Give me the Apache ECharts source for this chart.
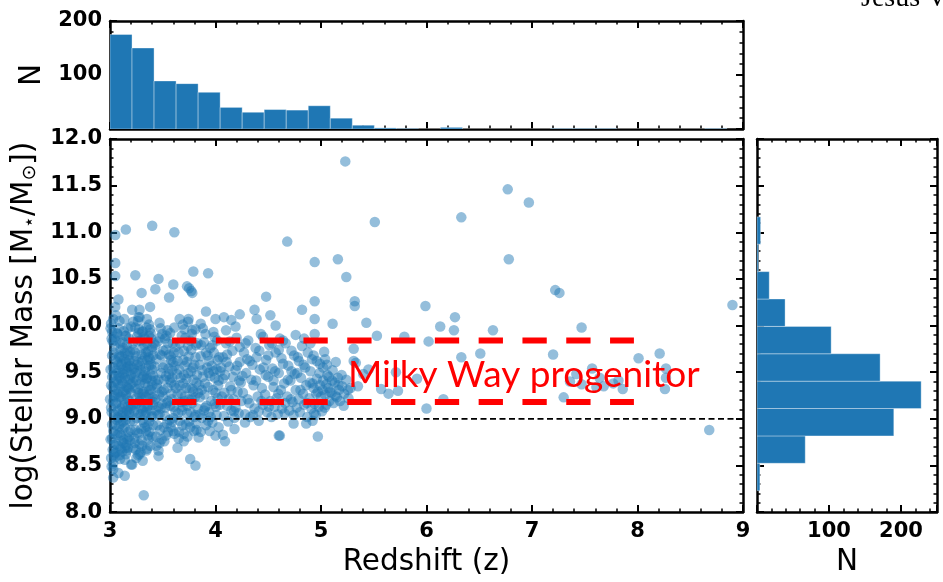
<!DOCTYPE html>
<html>
<head>
<meta charset="utf-8">
<script src="https://cdn.jsdelivr.net/npm/echarts@6/dist/echarts.min.js"></script>
<style>
html,body{margin:0;padding:0;background:#fff;}
#chart{width:943px;height:582px;}
</style>
</head>
<body>
<div id="chart"></div>
<script>
// ---------------- DATA ----------------
// Scatter points: [redshift z, log stellar mass]
const scatterPoints = [
[3.01,9.12],[3.02,9.45],[3.03,8.87],[3.04,9.78],[3.05,9.31],[3.06,8.64],[3.07,9.02],[3.08,9.58],[3.09,9.23],[3.10,8.95],
[3.11,9.67],[3.12,9.38],[3.13,8.78],[3.14,9.15],[3.15,9.89],[3.16,9.51],[3.17,8.69],[3.18,9.07],[3.19,9.72],[3.20,9.28],
[3.01,8.58],[3.02,9.93],[3.03,9.19],[3.04,8.72],[3.05,9.63],[3.06,9.41],[3.07,8.83],[3.08,9.97],[3.09,8.61],[3.10,9.35],
[3.11,9.04],[3.12,9.82],[3.13,9.48],[3.14,8.91],[3.15,9.26],[3.16,9.09],[3.17,9.56],[3.18,8.81],[3.19,9.43],[3.20,9.99],
[3.01,9.36],[3.02,8.79],[3.03,9.55],[3.04,9.05],[3.05,8.93],[3.06,9.84],[3.07,9.27],[3.08,8.71],[3.09,9.66],[3.10,9.11],
[3.11,8.76],[3.12,9.53],[3.13,9.21],[3.14,9.71],[3.15,8.99],[3.16,8.66],[3.17,9.33],[3.18,9.62],[3.19,8.97],[3.20,9.14],
[3.00,9.21],[3.02,9.68],[3.04,9.39],[3.06,9.17],[3.08,9.01],[3.10,9.74],[3.12,8.89],[3.14,9.44],[3.16,9.79],[3.18,9.32],
[3.01,10.02],[3.03,8.52],[3.05,9.88],[3.07,9.49],[3.09,8.85],[3.11,9.59],[3.13,9.94],[3.15,8.62],[3.17,9.13],[3.19,9.57],
[3.02,8.94],[3.04,9.24],[3.06,9.52],[3.08,9.29],[3.10,8.68],[3.12,9.07],[3.14,8.56],[3.16,9.34],[3.18,9.86],[3.20,9.47],
[3.03,8.46],[3.05,8.59],[3.07,9.91],[3.09,10.05],[3.11,9.41],[3.13,8.74],[3.15,9.61],[3.17,9.97],[3.19,8.77],
[3.05,10.97],[3.15,11.03],[3.05,10.67],[3.05,10.53],[3.08,10.28],[3.05,10.20],[3.03,10.07],[3.03,8.37],[3.14,8.39],[3.08,8.42],[3.20,8.51],
[3.005,9.53],[3.015,9.07],[3.025,9.34],[3.035,9.71],[3.045,8.84],[3.055,9.16],[3.065,9.61],[3.075,9.38],[3.085,8.92],[3.095,9.81],
[3.105,9.24],[3.115,9.49],[3.125,8.97],[3.135,9.64],[3.145,9.31],[3.155,9.04],[3.165,9.73],[3.175,9.42],[3.185,9.19],[3.195,8.88],
[3.005,8.78],[3.015,9.86],[3.025,8.67],[3.035,9.47],[3.045,9.26],[3.055,8.73],[3.065,9.92],[3.075,9.09],[3.085,9.68],[3.095,9.44],
[3.105,8.82],[3.115,9.13],[3.125,9.76],[3.135,9.02],[3.145,8.69],[3.155,9.54],[3.165,9.22],[3.175,8.86],[3.185,9.63],[3.195,9.37],
[3.005,9.97],[3.025,9.83],[3.045,8.63],[3.065,8.99],[3.085,9.46],[3.105,9.57],[3.125,9.29],[3.145,9.89],[3.165,8.79],[3.185,9.05],
[3.015,8.49],[3.035,8.61],[3.055,10.11],[3.095,8.57],[3.115,8.65],[3.135,10.07],[3.155,8.72],[3.175,9.68],[3.195,9.11],[3.205,9.53],
[3.22,9.15],[3.23,9.62],[3.24,8.88],[3.25,9.41],[3.26,9.83],[3.27,9.06],[3.28,8.73],[3.29,9.52],[3.30,9.27],[3.31,9.94],
[3.32,8.96],[3.33,9.38],[3.34,9.71],[3.35,9.12],[3.36,8.82],[3.37,9.57],[3.38,9.21],[3.39,9.86],[3.40,9.03],[3.41,9.46],
[3.22,9.74],[3.23,8.79],[3.24,9.33],[3.25,9.01],[3.26,9.58],[3.27,9.92],[3.28,9.19],[3.29,8.64],[3.30,9.69],[3.31,9.09],
[3.32,9.47],[3.33,8.91],[3.34,9.24],[3.35,9.81],[3.36,9.35],[3.37,8.97],[3.38,9.64],[3.39,9.02],[3.40,9.53],[3.41,9.18],
[3.22,8.69],[3.23,9.44],[3.24,9.98],[3.25,9.22],[3.26,8.85],[3.27,9.61],[3.28,9.37],[3.29,9.05],[3.30,8.77],[3.31,9.76],
[3.32,9.29],[3.33,9.66],[3.34,8.87],[3.35,9.44],[3.36,9.14],[3.37,9.89],[3.38,8.71],[3.39,9.31],[3.40,9.77],[3.41,8.93],
[3.23,9.08],[3.25,9.67],[3.27,9.28],[3.29,9.84],[3.31,8.99],[3.33,9.51],[3.35,8.68],[3.37,9.26],[3.39,9.58],[3.41,9.68],
[3.22,10.04],[3.24,9.49],[3.26,9.17],[3.28,10.09],[3.30,9.42],[3.32,9.88],[3.34,9.07],[3.36,9.72],[3.38,9.96],[3.40,9.36],
[3.25,8.58],[3.28,8.62],[3.31,8.55],[3.34,9.55],[3.37,10.01],[3.40,8.81],
[3.21,10.17],[3.28,10.17],[3.27,10.09],[3.35,10.07],[3.38,10.20],[3.24,10.54],[3.30,10.35],[3.40,11.07],[3.32,8.18],[3.21,8.51],
[3.215,9.39],[3.225,8.98],[3.235,9.71],[3.245,9.16],[3.255,9.88],[3.265,9.32],[3.275,8.84],[3.285,9.57],[3.295,9.11],[3.305,9.62],
[3.315,9.27],[3.325,9.79],[3.335,9.04],[3.345,9.43],[3.355,8.92],[3.365,9.66],[3.375,9.31],[3.385,9.09],[3.395,9.74],[3.405,9.23],
[3.215,9.81],[3.235,8.74],[3.255,9.51],[3.275,9.96],[3.295,8.89],[3.315,9.45],[3.335,9.86],[3.355,9.63],[3.375,8.86],[3.395,9.41],
[3.225,9.54],[3.245,8.67],[3.265,10.05],[3.285,9.23],[3.305,8.71],[3.325,9.13],[3.345,9.98],[3.365,8.78],[3.385,9.92],[3.405,9.15],
[3.265,8.61],[3.305,9.93],[3.345,8.66],[3.385,9.47],[3.415,9.81],
[3.43,9.21],[3.44,9.64],[3.45,8.93],[3.46,9.42],[3.47,9.87],[3.48,9.11],[3.49,8.78],[3.50,9.55],[3.51,9.31],[3.52,9.03],
[3.53,9.74],[3.54,9.17],[3.55,8.86],[3.56,9.48],[3.57,9.92],[3.58,9.27],[3.59,8.97],[3.60,9.61],[3.61,9.36],[3.62,9.08],
[3.43,9.79],[3.45,9.33],[3.47,9.05],[3.49,9.68],[3.51,8.91],[3.53,9.46],[3.55,9.81],[3.57,9.14],[3.59,9.52],[3.61,8.84],
[3.44,8.71],[3.46,9.13],[3.48,9.97],[3.50,9.24],[3.52,9.58],[3.54,8.95],[3.56,9.69],[3.58,9.39],[3.60,9.01],[3.62,9.77],
[3.43,9.41],[3.46,8.66],[3.49,9.29],[3.52,9.86],[3.55,9.19],[3.58,9.63],[3.61,9.98],[3.47,10.03],[3.53,8.82],[3.59,9.44],
[3.46,10.50],[3.43,10.39],[3.60,10.44],[3.56,10.30],[3.61,11.00],[3.46,8.60],[3.47,8.74],[3.60,8.87],
[3.425,9.56],[3.435,9.09],[3.445,9.37],[3.455,9.83],[3.465,9.26],[3.475,8.88],[3.485,9.49],[3.495,9.16],[3.505,9.73],[3.515,9.42],
[3.525,9.12],[3.535,9.89],[3.545,9.33],[3.555,9.54],[3.565,8.99],[3.575,9.67],[3.585,9.21],[3.595,9.81],[3.605,9.13],[3.615,9.57],
[3.625,9.33],[3.435,8.81],[3.475,9.69],[3.515,8.76],[3.545,9.95],[3.575,8.91],[3.605,9.71],[3.455,9.04],[3.495,9.91],[3.565,9.42],
[3.64,9.26],[3.65,9.71],[3.66,8.98],[3.67,9.44],[3.68,9.89],[3.69,9.13],[3.70,8.84],[3.71,9.57],[3.72,9.33],[3.73,9.06],
[3.74,9.78],[3.75,9.21],[3.76,8.91],[3.77,9.51],[3.78,9.95],[3.79,9.29],[3.80,9.02],[3.81,9.66],[3.82,9.39],[3.83,9.11],
[3.64,9.62],[3.66,9.36],[3.68,9.09],[3.70,9.73],[3.72,8.94],[3.74,9.49],[3.76,9.84],[3.78,9.17],[3.80,9.58],[3.82,8.88],
[3.65,8.79],[3.67,9.18],[3.69,10.01],[3.71,9.24],[3.73,9.61],[3.75,8.97],[3.77,9.74],[3.79,9.42],[3.81,9.04],[3.83,9.81],
[3.70,9.47],[3.78,9.32],
[3.66,10.07],[3.74,10.04],[3.79,10.58],[3.73,10.42],[3.75,10.40],[3.77,10.37],[3.78,10.35],[3.76,8.57],[3.81,8.50],[3.70,8.76],[3.64,8.69],
[3.635,9.48],[3.645,9.06],[3.655,9.53],[3.665,9.81],[3.675,9.27],[3.685,8.93],[3.695,9.63],[3.705,9.19],[3.715,9.87],[3.725,9.43],
[3.735,9.14],[3.745,9.67],[3.755,9.33],[3.765,9.07],[3.775,9.91],[3.785,9.55],[3.795,8.87],[3.805,9.23],[3.815,9.79],[3.825,9.47],
[3.835,9.28],[3.655,8.86],[3.695,9.38],[3.735,8.81],[3.775,9.21],[3.815,8.95],[3.705,9.96],[3.745,10.07],
[3.85,9.23],[3.86,9.67],[3.87,9.01],[3.88,9.45],[3.89,9.82],[3.90,9.12],[3.91,8.93],[3.92,9.55],[3.93,9.34],[3.94,9.07],
[3.95,9.76],[3.96,9.19],[3.97,8.96],[3.98,9.51],[3.99,9.88],[4.00,9.28],[4.01,9.04],[4.02,9.63],[4.03,9.41],[4.04,9.15],
[3.85,9.58],[3.87,9.31],[3.89,9.09],[3.91,9.71],[3.93,8.98],[3.95,9.46],[3.97,9.79],[3.99,9.16],[4.01,9.53],[4.03,8.91],
[3.86,8.86],[3.90,9.38],[3.94,9.62],[3.98,9.93],[4.02,9.22],
[3.91,10.15],[3.86,10.02],[3.81,9.96],[3.93,10.56],[4.00,10.07],[4.00,8.82],[3.84,8.80],[3.88,9.97],
[3.845,9.36],[3.855,9.05],[3.865,9.79],[3.875,9.52],[3.895,9.26],[3.905,9.91],[3.915,9.14],[3.925,9.68],[3.935,9.49],[3.955,9.02],
[3.965,9.57],[3.975,9.31],[3.985,9.71],[3.995,9.44],[4.005,9.13],[4.015,9.84],[4.025,9.36],[4.035,9.66],[4.045,9.51],[3.945,8.87],
[4.06,9.24],[4.07,9.66],[4.08,9.03],[4.09,9.47],[4.10,9.81],[4.11,9.14],[4.12,8.97],[4.13,9.56],[4.14,9.35],[4.15,9.09],
[4.16,9.73],[4.17,9.21],[4.18,9.01],[4.19,9.52],[4.20,9.87],[4.21,9.29],[4.22,9.06],[4.23,9.61],[4.24,9.39],[4.07,9.43],
[4.11,9.69],[4.15,9.31],[4.19,9.12],[4.23,9.77],
[4.08,10.09],[4.15,10.06],[4.23,10.12],[4.10,9.95],[4.19,9.99],[4.09,8.76],[4.07,8.83],[4.18,8.89],
[4.055,9.55],[4.085,9.28],[4.105,9.61],[4.135,9.83],[4.165,9.45],[4.175,9.08],[4.205,9.57],[4.225,9.41],[4.245,9.19],[4.125,9.21],
[4.26,9.28],[4.27,9.71],[4.28,9.05],[4.29,9.49],[4.31,9.84],[4.32,9.17],[4.33,9.02],[4.35,9.58],[4.36,9.36],[4.37,9.11],
[4.38,9.76],[4.40,9.24],[4.41,9.08],[4.42,9.53],[4.43,9.91],[4.44,9.33],[4.45,9.15],[4.30,9.64],[4.34,9.42],[4.39,9.66],
[4.37,10.17],[4.39,10.07],[4.28,8.96],[4.41,8.98],[4.45,9.88],
[4.255,9.46],[4.285,9.81],[4.305,9.21],[4.325,9.62],[4.355,9.04],[4.385,9.41],[4.415,9.73],[4.435,9.19],[4.455,9.55],
[4.47,9.26],[4.48,9.63],[4.49,9.07],[4.50,9.45],[4.51,9.79],[4.52,9.19],[4.53,9.02],[4.54,9.54],[4.55,9.34],[4.56,9.13],
[4.57,9.71],[4.58,9.22],[4.59,9.05],[4.60,9.49],[4.61,9.86],[4.62,9.31],[4.63,9.11],[4.64,9.59],[4.65,9.38],[4.66,9.17],
[4.50,9.68],[4.55,9.41],[4.60,9.74],[4.64,9.84],
[4.48,10.31],[4.52,10.11],[4.57,10.00],[4.60,8.82],[4.61,8.82],
[4.475,9.47],[4.505,9.13],[4.535,9.81],[4.565,9.51],[4.595,9.27],[4.625,9.65],[4.655,9.06],[4.665,9.81],
[4.68,9.24],[4.69,9.57],[4.70,9.09],[4.71,9.41],[4.72,9.73],[4.73,9.18],[4.74,9.04],[4.75,9.48],[4.76,9.31],[4.77,9.12],
[4.78,9.66],[4.79,9.21],[4.80,9.07],[4.81,9.44],[4.82,9.78],[4.83,9.27],[4.84,9.15],[4.85,9.55],[4.86,9.36],[4.87,9.02],
[4.72,9.51],[4.79,9.62],[4.84,9.86],
[4.68,10.90],[4.82,10.17],[4.74,8.95],[4.86,8.95],[4.76,9.90],
[4.685,9.42],[4.715,9.21],[4.745,9.68],[4.775,9.49],[4.805,9.31],[4.835,9.58],[4.865,9.17],[4.875,9.71],
[4.89,9.22],[4.90,9.51],[4.91,9.11],[4.92,9.38],[4.93,9.68],[4.94,9.16],[4.95,9.04],[4.96,9.43],[4.97,9.29],[4.98,9.13],
[4.99,9.59],[5.00,9.24],[5.01,9.08],[5.02,9.41],[5.03,9.72],[5.04,9.26],[5.05,9.15],[5.06,9.47],[5.07,9.33],[5.08,9.19],
[4.90,9.81],[4.93,9.33],[4.96,9.62],[4.99,9.36],[5.02,9.55],[5.05,9.37],[4.92,8.98],[4.94,9.91],
[4.94,10.68],[4.94,10.26],[4.94,10.07],[4.97,8.81],[5.04,9.64],
[4.895,9.39],[4.915,9.64],[4.935,9.06],[4.955,9.27],[4.985,9.49],[5.015,9.31],[5.035,9.12],[5.055,9.58],[5.075,9.45],[5.085,9.29],
[5.10,9.28],[5.11,9.52],[5.12,9.17],[5.13,9.39],[5.14,9.61],[5.15,9.23],[5.16,9.44],[5.17,9.31],[5.18,9.19],[5.20,9.35],
[5.22,9.27],[5.24,9.42],[5.26,9.22],[5.28,9.33],
[5.105,9.41],[5.135,9.25],[5.165,9.36],[5.195,9.47],[5.215,9.14],[5.255,9.31],
[5.11,10.02],[5.16,10.71],[5.24,10.52],[5.23,11.76],
[5.32,10.26],[5.32,10.21],[5.31,9.75],[5.31,9.62],[5.33,9.60],[5.45,9.53],[5.40,9.48],[5.35,9.35],[5.43,10.03],[5.53,9.89],
[5.51,11.11],[5.57,9.32],[5.64,9.27],[5.73,9.30],[5.79,9.88],[5.71,9.50],[5.91,9.43],[5.99,10.21],[6.02,9.83],[6.00,9.11],
[6.13,9.99],[6.26,9.95],[6.27,10.09],[6.33,11.16],[6.33,9.66],[6.51,9.70],[6.16,9.21],[6.63,9.95],[6.77,11.46],[6.78,10.71],
[6.97,11.32],[7.20,9.69],[7.22,10.38],[7.26,10.35],[7.30,9.23],[7.36,9.40],[7.42,9.48],[7.47,9.98],[7.47,9.37],[7.57,9.54],
[7.61,9.34],[7.64,9.44],[7.68,9.35],[7.77,9.38],[7.82,9.41],[7.86,9.32],[8.01,9.65],[8.21,9.70],[8.27,9.54],[8.27,9.44],
[8.26,9.32],[8.68,8.88],[8.90,10.22]
];

// Redshift histogram (top panel)
const zHistStart = 3.0;
const zHistWidth = 0.2088;
const zHistCounts = [175,150,89,84,68,40,31,36,35,43,20,7,2,1,0,3,0,0,0,0,1,1,1,0,0,0,0,1];

// Stellar-mass histogram (right panel), bins from bottom
const mHistStart = 8.23;
const mHistWidth = 0.2935;
const mHistCounts = [4,67,190,228,171,103,39,17,2,5];

// Milky Way progenitor band & mass cut
const mwLower = 9.18;
const mwUpper = 9.84;
const mwZStart = 3.173;
const mwZEnd = 7.966;
const massCut = 9.0;
const mwLabel = 'Milky Way progenitor';
const mwLabelAt = [5.256, 9.47];

// Axis ranges
const zRange = [3, 9];
const massRange = [8, 12];
const nTopRange = [0, 200];
const nRightRange = [0, 250];

// ---------------- CHART ----------------
const chart = echarts.init(document.getElementById('chart'), null, {renderer: 'canvas'});

const tickFont = {fontFamily: 'DejaVu Sans', fontWeight: 'bold', fontSize: 21, color: '#000'};
const nameFont = {fontFamily: 'DejaVu Sans', fontSize: 29.5, color: '#000'};

function frame(extra) {
  return Object.assign({
    type: 'value',
    axisLine: {show: true, onZero: false, lineStyle: {color: '#000', width: 2.5}},
    axisTick: {show: true, inside: true, length: 7, lineStyle: {color: '#000', width: 2}},
    minorTick: {show: true, splitNumber: 5, length: 3.5, lineStyle: {color: '#000', width: 1.5}},
    splitLine: {show: false},
    minorSplitLine: {show: false},
    axisLabel: {show: false}
  }, extra);
}

const zHistData = zHistCounts.map((c, i) => [zHistStart + i * zHistWidth, zHistStart + (i + 1) * zHistWidth, c]);
const mHistData = mHistCounts.map((c, i) => [mHistStart + i * mHistWidth, mHistStart + (i + 1) * mHistWidth, c]);

const barStyle = {fill: '#1f77b4', stroke: 'rgba(255,255,255,0.35)', lineWidth: 1};

const option = {
  animation: false,
  backgroundColor: '#fff',
  grid: [
    {left: 110, top: 139, width: 633, height: 381},
    {left: 110, top: 21, width: 633, height: 108},
    {left: 757, top: 139, width: 180, height: 381}
  ],
  xAxis: [
    frame({gridIndex: 0, position: 'bottom', min: zRange[0], max: zRange[1], interval: 1,
      axisLabel: Object.assign({show: true, margin: 9}, tickFont),
      name: 'Redshift (z)', nameLocation: 'middle', nameGap: 33, nameTextStyle: nameFont}),
    frame({gridIndex: 0, position: 'top', min: zRange[0], max: zRange[1], interval: 1}),
    frame({gridIndex: 1, position: 'bottom', min: zRange[0], max: zRange[1], interval: 1}),
    frame({gridIndex: 1, position: 'top', min: zRange[0], max: zRange[1], interval: 1}),
    frame({gridIndex: 2, position: 'bottom', min: nRightRange[0], max: nRightRange[1], interval: 100,
      axisLabel: Object.assign({show: true, margin: 9, showMinLabel: false, showMaxLabel: false}, tickFont),
      name: 'N', nameLocation: 'middle', nameGap: 33, nameTextStyle: nameFont}),
    frame({gridIndex: 2, position: 'top', min: nRightRange[0], max: nRightRange[1], interval: 100})
  ],
  yAxis: [
    frame({gridIndex: 0, position: 'left', min: massRange[0], max: massRange[1], interval: 0.5,
      axisLabel: Object.assign({show: true, margin: 8, formatter: v => v.toFixed(1)}, tickFont),
      name: 'log(Stellar Mass [M{s|⋆}/M{s|⊙}])', nameLocation: 'middle', nameGap: 60,
      nameTextStyle: Object.assign({}, nameFont, {rich: {s: {fontFamily: 'DejaVu Sans', fontSize: 19, color: '#000', verticalAlign: 'bottom'}}})}),
    frame({gridIndex: 0, position: 'right', min: massRange[0], max: massRange[1], interval: 0.5}),
    frame({gridIndex: 1, position: 'left', min: nTopRange[0], max: nTopRange[1], interval: 100,
      axisLabel: Object.assign({show: true, margin: 8, showMinLabel: false}, tickFont),
      name: 'N', nameLocation: 'middle', nameGap: 60, nameTextStyle: nameFont}),
    frame({gridIndex: 1, position: 'right', min: nTopRange[0], max: nTopRange[1], interval: 100}),
    frame({gridIndex: 2, position: 'left', min: massRange[0], max: massRange[1], interval: 0.5}),
    frame({gridIndex: 2, position: 'right', min: massRange[0], max: massRange[1], interval: 0.5})
  ],
  series: [
    {
      type: 'custom', xAxisIndex: 2, yAxisIndex: 2, clip: true,
      encode: {x: [0, 1], y: 2},
      data: zHistData,
      renderItem: function (params, api) {
        const p0 = api.coord([api.value(0), 0]);
        const p1 = api.coord([api.value(1), api.value(2)]);
        return {type: 'rect', shape: {x: p0[0], y: p1[1], width: p1[0] - p0[0], height: p0[1] - p1[1]}, style: barStyle};
      }
    },
    {
      type: 'custom', xAxisIndex: 4, yAxisIndex: 4, clip: true,
      encode: {x: 2, y: [0, 1]},
      data: mHistData,
      renderItem: function (params, api) {
        const p0 = api.coord([0, api.value(0)]);
        const p1 = api.coord([api.value(2), api.value(1)]);
        return {type: 'rect', shape: {x: p0[0], y: p1[1], width: p1[0] - p0[0], height: p0[1] - p1[1]}, style: barStyle};
      }
    },
    {
      type: 'scatter', xAxisIndex: 0, yAxisIndex: 0,
      symbol: 'circle', symbolSize: 10.5,
      itemStyle: {color: 'rgba(31,119,180,0.6)'},
      data: scatterPoints, silent: true
    },
    {
      type: 'line', xAxisIndex: 0, yAxisIndex: 0, silent: true, showSymbol: false, symbol: 'none',
      data: [[zRange[0], massCut], [zRange[1], massCut]],
      lineStyle: {color: '#000', width: 1.8, type: [6, 3.5]}
    },
    {
      type: 'line', xAxisIndex: 0, yAxisIndex: 0, silent: true, showSymbol: false, symbol: 'none',
      data: [[mwZStart, mwUpper], [mwZEnd, mwUpper]],
      lineStyle: {color: '#ff0000', width: 6, type: [24.3, 19.5], cap: 'butt'}
    },
    {
      type: 'line', xAxisIndex: 0, yAxisIndex: 0, silent: true, showSymbol: false, symbol: 'none',
      data: [[mwZStart, mwLower], [mwZEnd, mwLower]],
      lineStyle: {color: '#ff0000', width: 6, type: [24.3, 19.5], cap: 'butt'}
    },
    {
      type: 'custom', xAxisIndex: 0, yAxisIndex: 0, silent: true, z: 10,
      encode: {x: 0, y: 1},
      data: [mwLabelAt],
      renderItem: function (params, api) {
        const p = api.coord([api.value(0), api.value(1)]);
        return {type: 'text', x: p[0], y: p[1],
          style: {text: mwLabel, fontFamily: 'Lato', fontSize: 37, fill: '#ff0000', align: 'left', verticalAlign: 'middle'}};
      }
    }
  ],
  graphic: [
    {type: 'text', x: 861, y: 13, silent: true, z: 100,
      style: {text: 'Jesus V', fontFamily: 'Liberation Serif', fontSize: 28, fill: '#000', verticalAlign: 'bottom', align: 'left'}}
  ]
};

chart.setOption(option);
</script>
</body>
</html>
